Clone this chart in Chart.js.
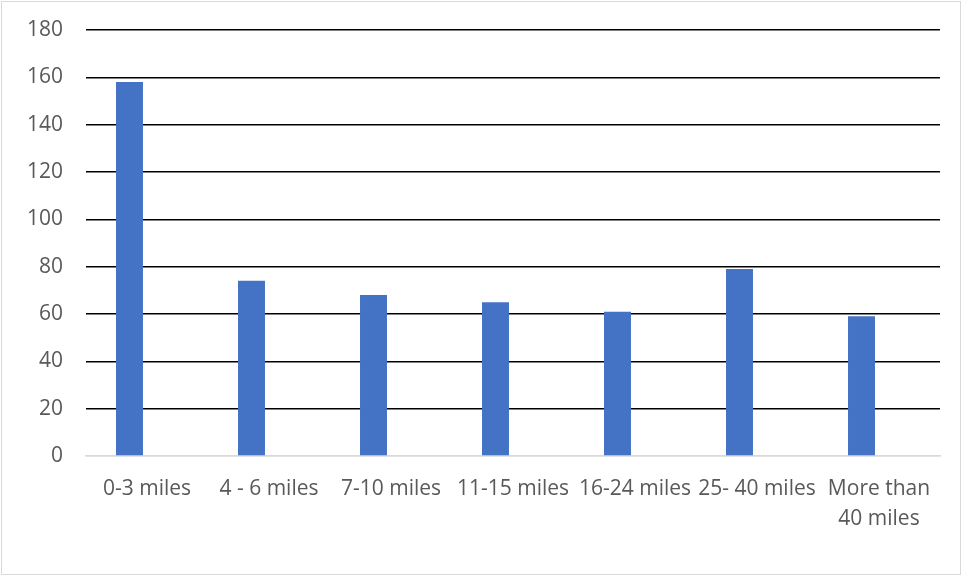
<!DOCTYPE html>
<html>
<head>
<meta charset="utf-8">
<script src="https://cdn.jsdelivr.net/npm/chart.js@4/dist/chart.umd.min.js"></script>
<style>
  html, body { margin: 0; padding: 0; background: #fff; }
  #wrap { position: relative; width: 962px; height: 576px; }
  #frame { position: absolute; left: 1px; top: 1px; width: 958px; height: 572px; border: 1px solid #d9d9d9; pointer-events: none; }
</style>
</head>
<body>
<div id="wrap">
  <canvas id="distanceChart" width="962" height="576"></canvas>
  <div id="frame"></div>
</div>
<script>
// Categories and values
const categories = ['0-3 miles', '4 - 6 miles', '7-10 miles', '11-15 miles', '16-24 miles', '25- 40 miles', ['More than', '40 miles']];
const counts = [158, 74, 68, 65, 61, 79, 59];
// empty second series (the original chart leaves room for it beside each bar)
const emptySeries = [null, null, null, null, null, null, null];
const yTicks = [0, 20, 40, 60, 80, 100, 120, 140, 160, 180];

const fontFamily = '"Open Sans", "Noto Sans", sans-serif';

const ctx = document.getElementById('distanceChart').getContext('2d');
const chart = new Chart(ctx, {
    type: 'bar',
    data: {
        labels: categories,
        datasets: [{
            data: counts,
            backgroundColor: '#4472C4',
            categoryPercentage: 0.574,
            barPercentage: 0.77
        }, {
            data: emptySeries,
            backgroundColor: '#ED7D31',
            categoryPercentage: 0.574,
            barPercentage: 0.77
        }]
    },
    options: {
        responsive: false,
        animation: false,
        layout: { padding: { top: 30, right: 22, left: 0, bottom: 0 } },
        plugins: { legend: { display: false }, tooltip: { enabled: false } },
        scales: {
            x: {
                grid: { display: false },
                border: { color: '#d9d9d9', width: 1.5 },
                ticks: { color: '#595959', font: { family: fontFamily, size: 21, lineHeight: 1.42 }, padding: 10, maxRotation: 0, autoSkip: false },
                afterFit: scale => { scale.height = 120; scale.paddingLeft = 0; scale.paddingRight = 0; }
            },
            y: {
                min: 0,
                max: 180,
                afterBuildTicks: scale => { scale.ticks = yTicks.map(v => ({ value: v })); },
                border: { display: false },
                grid: {
                    drawTicks: false,
                    color: c => (c.tick && c.tick.value === 0) ? '#d9d9d9' : '#000',
                    lineWidth: 1.5
                },
                ticks: { color: '#595959', font: { family: fontFamily, size: 21, lineHeight: 1 }, padding: 23 },
                afterFit: scale => { scale.width = 86; scale.paddingTop = 0; scale.paddingBottom = 0; }
            }
        }
    }
});
</script>
</body>
</html>
